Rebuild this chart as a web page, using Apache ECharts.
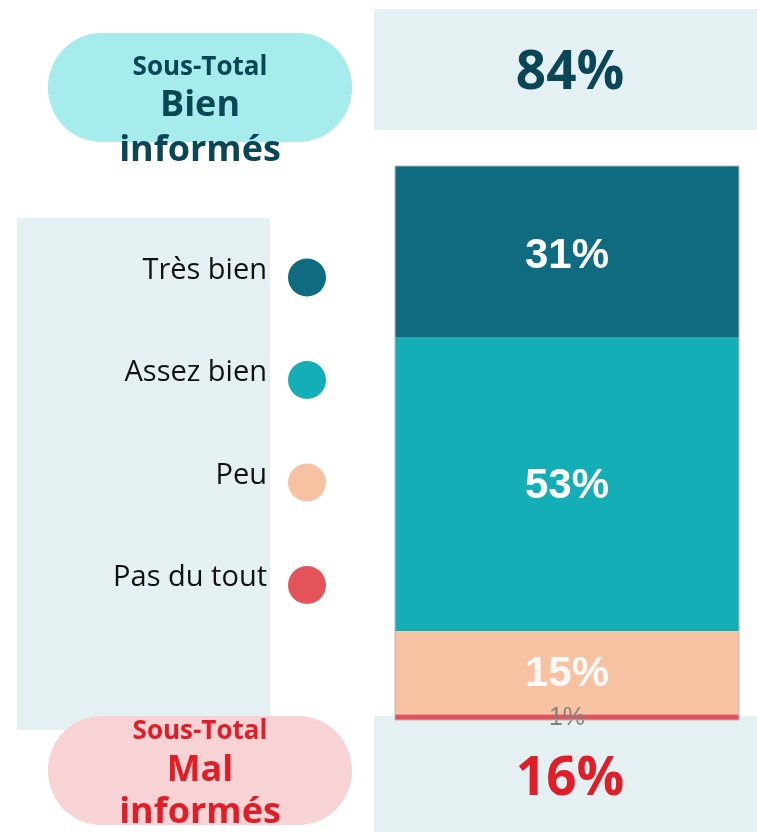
<!DOCTYPE html>
<html>
<head>
<meta charset="utf-8">
<script src="https://cdn.jsdelivr.net/npm/echarts@6/dist/echarts.min.js"></script>
<style>
  html, body { margin: 0; padding: 0; background: #fff; }
  #chart { width: 757px; height: 832px; }
</style>
</head>
<body>
<div id="chart"></div>
<script>
// données
var categories = ['Très bien', 'Assez bien', 'Peu', 'Pas du tout']
var values = [31, 53, 15, 1]
var colors = ['#0f6b80', '#14afb6', '#f6c2a2', '#e4535a']
var groupBien = ['Très bien', 'Assez bien']
var groupMal = ['Peu', 'Pas du tout']

var sumOf = function(names) {
  return names.reduce(function(s, n) { return s + values[categories.indexOf(n)] }, 0)
}
var totalBien = sumOf(groupBien)
var totalMal = sumOf(groupMal)

var panel = '#e5f0f3'
var darkText = '#0b4656'
var redText = '#e01e28'

var chart = echarts.init(document.getElementById('chart'))

var seriesArr = categories.map(function(name, i) {
  var small = values[i] < 5
  return {
    name: name,
    type: 'bar',
    stack: 'total',
    barWidth: '100%',
    data: [values[i]],
    itemStyle: { color: colors[i] },
    label: {
      show: true,
      position: 'inside',
      offset: [0, small ? 1 : (i === 0 ? 5 : 2)],
      formatter: '{c}%',
      fontFamily: 'Liberation Sans, Arial, sans-serif',
      fontWeight: small ? 'normal' : 'bold',
      fontSize: small ? 25 : 42,
      color: small ? '#808080' : (i === 2 ? 'rgba(255,255,255,0.92)' : '#fff')
    },
    silent: true
  }
})

chart.setOption({
  backgroundColor: '#fff',
  animation: false,
  grid: {
    left: 395,
    right: 18,
    top: 166,
    bottom: 112,
    show: true,
    borderColor: '#b8b8b8',
    borderWidth: 1,
    backgroundColor: 'transparent',
    z: 3
  },
  xAxis: {
    type: 'category',
    data: [''],
    show: false
  },
  yAxis: {
    type: 'value',
    min: 0,
    max: 100,
    inverse: true,
    show: false
  },
  legend: {
    data: categories,
    orient: 'vertical',
    align: 'right',
    right: 426,
    top: 251,
    icon: 'circle',
    itemWidth: 38,
    itemHeight: 38,
    itemGap: 62,
    selectedMode: false,
    formatter: '{t|{name}}',
    textStyle: {
      fontFamily: 'Open Sans',
      fontSize: 29,
      color: '#111',
      rich: {
        t: {
          fontFamily: 'Open Sans',
          fontSize: 29,
          color: '#111',
          padding: [0, 16, 14, 0]
        }
      }
    }
  },
  graphic: [
    // fonds
    { type: 'rect', z: -10, shape: { x: 374, y: 9, width: 383, height: 121 }, style: { fill: panel } },
    { type: 'rect', z: -10, shape: { x: 17, y: 218, width: 253, height: 512 }, style: { fill: panel } },
    { type: 'rect', z: -10, shape: { x: 374, y: 716, width: 383, height: 116 }, style: { fill: panel } },
    { type: 'rect', z: -9, shape: { x: 48, y: 33, width: 304, height: 109, r: 54 }, style: { fill: '#a6ecec' } },
    { type: 'rect', z: -9, shape: { x: 48, y: 716, width: 304, height: 109, r: 54 }, style: { fill: '#f8d3d5' } },
    // sous-totaux
    { type: 'text', x: 200, y: 68, style: { text: 'Sous-Total', font: 'bold 26px "Open Sans"', fill: darkText, align: 'center', verticalAlign: 'middle' } },
    { type: 'text', x: 200, y: 106, style: { text: 'Bien', font: 'bold 36px "Open Sans"', fill: darkText, align: 'center', verticalAlign: 'middle' } },
    { type: 'text', x: 200, y: 151, style: { text: 'informés', font: 'bold 36px "Open Sans"', fill: darkText, align: 'center', verticalAlign: 'middle' } },
    { type: 'text', x: 570, y: 74, style: { text: totalBien + '%', font: 'bold 53px "Open Sans"', fill: darkText, align: 'center', verticalAlign: 'middle' } },
    { type: 'text', x: 200, y: 732, style: { text: 'Sous-Total', font: 'bold 26px "Open Sans"', fill: redText, align: 'center', verticalAlign: 'middle' } },
    { type: 'text', x: 200, y: 771, style: { text: 'Mal', font: 'bold 36px "Open Sans"', fill: redText, align: 'center', verticalAlign: 'middle' } },
    { type: 'text', x: 200, y: 813, style: { text: 'informés', font: 'bold 36px "Open Sans"', fill: redText, align: 'center', verticalAlign: 'middle' } },
    { type: 'text', x: 570, y: 780, style: { text: totalMal + '%', font: 'bold 53px "Open Sans"', fill: redText, align: 'center', verticalAlign: 'middle' } }
  ],
  series: seriesArr
})
</script>
</body>
</html>
